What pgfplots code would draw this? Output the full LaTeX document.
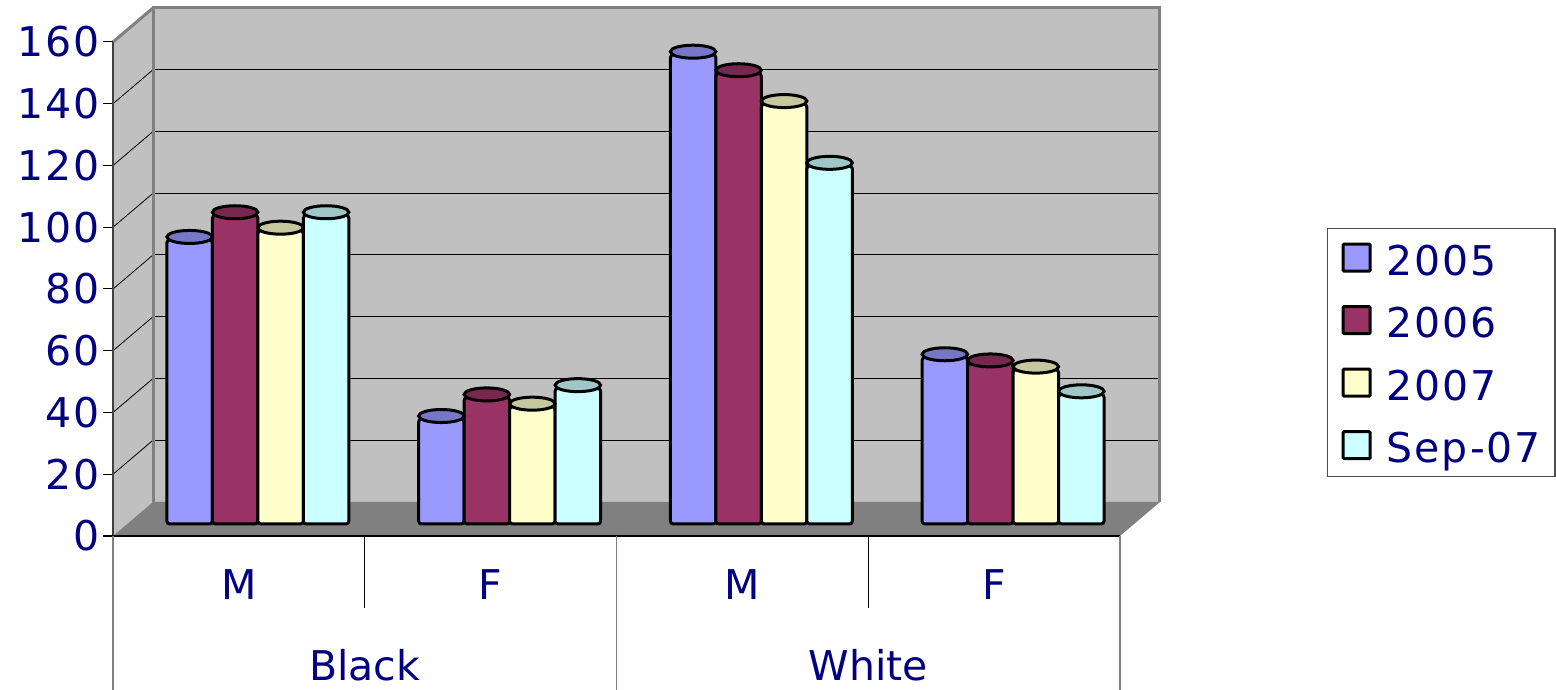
\documentclass[border=0pt]{standalone}
\usepackage{fontspec}
\setmainfont{DejaVu Sans}
\usepackage{pgfplots}
\pgfplotsset{compat=1.18}
\usetikzlibrary{shapes.geometric}

\definecolor{navy}{HTML}{000080}
\definecolor{wall}{HTML}{C0C0C0}
\definecolor{floorc}{HTML}{808080}
\definecolor{cA}{HTML}{9999FF}
\definecolor{cB}{HTML}{993366}
\definecolor{cC}{HTML}{FFFFCC}
\definecolor{cD}{HTML}{CCFFFF}
\newcommand\xlfont{\fontsize{41pt}{49pt}\selectfont}
\newcommand\numfont{\fontsize{41pt}{49pt}\selectfont\addfontfeature{LetterSpace=5}}

\pgfplotsset{
  colbar/.style={
    fill=#1, draw=black, line width=3pt, rounded corners=3pt,
    nodes near coords={},
    every node near coord/.append style={ellipse, fill=#1!78!black, draw=black,
      line width=3pt, minimum width=45.5pt, minimum height=13pt, inner sep=0pt,
      anchor=center, yshift=3pt, font=\tiny}},
  sq/.style={legend image code/.code={
    \draw[##1, draw=black, line width=3pt, rounded corners=1pt] (0pt,-11pt) rectangle (27pt,16pt);},
    fill=#1}
}

\begin{document}
\begin{tikzpicture}
\useasboundingbox (0,0) rectangle (1556pt,690pt);

% front plane: walls, floor, grid, ticks, category table
\begin{axis}[
  at={(113pt,154pt)}, anchor=south west,
  scale only axis, width=1007pt, height=494pt,
  xmin=0, xmax=4, ymin=0, ymax=160,
  clip=false,
  axis x line=none, axis y line*=left,
  y axis line style={draw=none},
  ytick={0,20,...,160},
  tick align=outside, major tick length=10pt,
  ytick style={black, line width=1pt},
  yticklabel style={font=\numfont, text=navy},
  /pgf/number format/assume math mode=true,
]
% back wall
\fill[wall] ([xshift=40pt,yshift=34pt]axis cs:0,0) rectangle ([xshift=40pt,yshift=34pt]axis cs:4,160);
% side wall
\fill[wall] (axis cs:0,0) -- (axis cs:0,160) -- ([xshift=40pt,yshift=34pt]axis cs:0,160)
  -- ([xshift=40pt,yshift=34pt]axis cs:0,0) -- cycle;
% floor
\fill[floorc] (axis cs:0,0) -- (axis cs:4,0) -- ([xshift=40pt,yshift=34pt]axis cs:4,0)
  -- ([xshift=40pt,yshift=34pt]axis cs:0,0) -- cycle;
% gridlines
\pgfplotsinvokeforeach{20,40,...,140}{
  \draw[black, line width=1pt] ([xshift=40pt,yshift=34pt]axis cs:0,#1) -- ([xshift=40pt,yshift=34pt]axis cs:4,#1);
  \draw[black, line width=0.8pt] (axis cs:0,#1) -- ([xshift=40pt,yshift=34pt]axis cs:0,#1);
}
% wall borders
\draw[floorc, line width=3pt] ([xshift=40pt,yshift=34pt]axis cs:0,0) -- ([xshift=40pt,yshift=34pt]axis cs:0,160)
  -- ([xshift=40pt,yshift=34pt]axis cs:4,160) -- ([xshift=40pt,yshift=34pt]axis cs:4,0);
\draw[floorc, line width=3pt] (axis cs:0,160) -- ([xshift=40pt,yshift=34pt]axis cs:0,160);
\draw[black!75, line width=2pt] (axis cs:0,0) -- (axis cs:0,160);
\draw[black, line width=1.5pt] ([xshift=-10pt]axis cs:0,0) -- (axis cs:4,0);
% category table
\draw[floorc, line width=1.5pt] (axis cs:0,0) -- ++(0,-154pt);
\draw[floorc, line width=1.5pt] (axis cs:2,0) -- ++(0,-154pt);
\draw[floorc, line width=1.5pt] (axis cs:4,0) -- ++(0,-154pt);
\draw[black, line width=1pt] (axis cs:1,0) -- ++(0,-72pt);
\draw[black, line width=1pt] (axis cs:3,0) -- ++(0,-72pt);
\node[font=\xlfont, text=navy] at ([yshift=-49pt]axis cs:0.5,0) {M};
\node[font=\xlfont, text=navy] at ([yshift=-49pt]axis cs:1.5,0) {F};
\node[font=\xlfont, text=navy] at ([yshift=-49pt]axis cs:2.5,0) {M};
\node[font=\xlfont, text=navy] at ([yshift=-49pt]axis cs:3.5,0) {F};
\node[font=\xlfont, text=navy] at ([yshift=-129pt]axis cs:1,0) {Black};
\node[font=\xlfont, text=navy] at ([yshift=-129pt]axis cs:3,0) {White};
\end{axis}

% bar plane
\begin{axis}[
  at={(132pt,166pt)}, anchor=south west,
  scale only axis, width=1007pt, height=494pt,
  xmin=0, xmax=4, ymin=0, ymax=160,
  clip=false, hide axis,
  ybar=0pt, bar width=45.5pt,
  legend style={at={(1.1867,0.5992)}, anchor=north west,
    draw=black!70, line width=1.2pt, fill=white,
    font=\numfont, text=navy,
    inner xsep=14pt, inner ysep=14pt,
    nodes={inner sep=0pt, text height=30pt, text depth=0pt},
    row sep=30pt, column sep=0pt},
  legend cell align=left,
]
\addplot[forget plot, bar shift=-68.25pt, colbar=cA]
  coordinates {(0.5,92) (1.5,34) (2.5,152) (3.5,54)};
\addplot[forget plot, bar shift=-22.75pt, colbar=cB]
  coordinates {(0.5,100) (1.5,41) (2.5,146) (3.5,52)};
\addplot[forget plot, bar shift=22.75pt, colbar=cC]
  coordinates {(0.5,95) (1.5,38) (2.5,136) (3.5,50)};
\addplot[forget plot, bar shift=68.25pt, colbar=cD]
  coordinates {(0.5,100) (1.5,44) (2.5,116) (3.5,42)};

\addlegendimage{sq=cA}
\addlegendentry{\hspace{15pt}2005}
\addlegendimage{sq=cB}
\addlegendentry{\hspace{15pt}2006}
\addlegendimage{sq=cC}
\addlegendentry{\hspace{15pt}2007}
\addlegendimage{sq=cD}
\addlegendentry{\hspace{15pt}Sep-07}
\end{axis}
\end{tikzpicture}
\end{document}
